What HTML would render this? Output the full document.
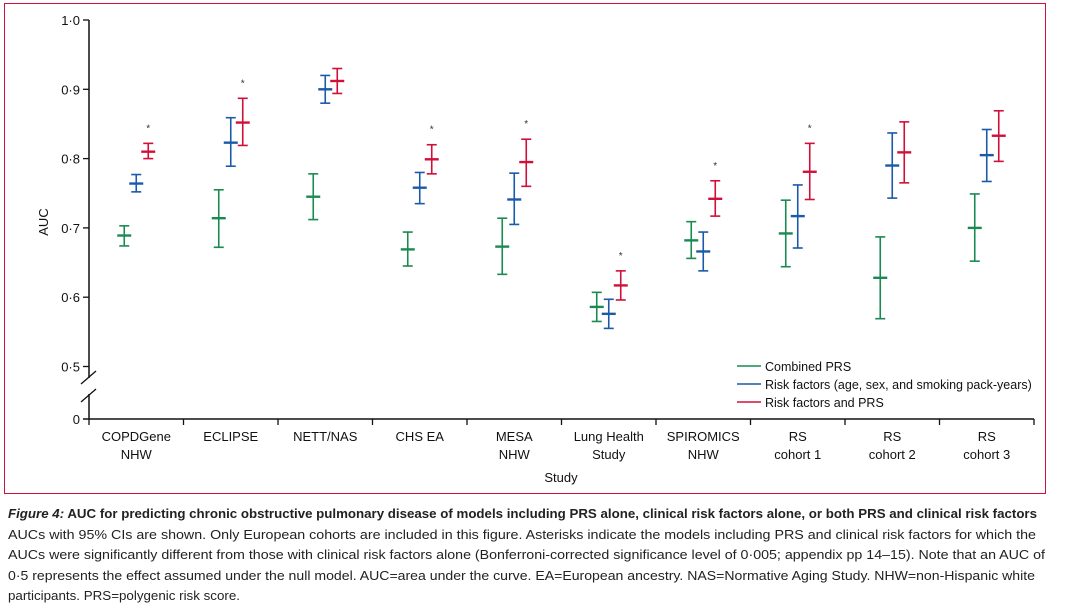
<!DOCTYPE html>
<html><head><meta charset="utf-8"><style>
body{margin:0;background:#fff;width:1067px;height:609px;overflow:hidden;font-family:"Liberation Sans",sans-serif}
#frame{position:absolute;left:4px;top:3px;width:1042px;height:491px;border:1.5px solid #d0103a;box-sizing:border-box}
#cap{position:absolute;left:8px;top:504px;font-size:13.3px;line-height:20.5px;color:#222;width:1100px}
#cap div{height:20.5px;white-space:nowrap}
#cap span.l{display:inline-block;white-space:nowrap;transform-origin:0 0}
</style></head><body>
<div id="frame"></div>
<svg id="chart" width="1067" height="500" style="position:absolute;left:0;top:0" font-family="Liberation Sans, sans-serif"></svg>
<div id="cap">
<div><span class="l" data-w="1029"><b><i>Figure 4:</i> AUC for predicting chronic obstructive pulmonary disease of models including PRS alone, clinical risk factors alone, or both PRS and clinical risk factors</b></span></div>
<div><span class="l" data-w="1028">AUCs with 95% CIs are shown. Only European cohorts are included in this figure. Asterisks indicate the models including PRS and clinical risk factors for which the</span></div>
<div><span class="l" data-w="1037">AUCs were significantly different from those with clinical risk factors alone (Bonferroni-corrected significance level of 0·005; appendix pp 14–15). Note that an AUC of</span></div>
<div><span class="l" data-w="1027">0·5 represents the effect assumed under the null model. AUC=area under the curve. EA=European ancestry. NAS=Normative Aging Study. NHW=non-Hispanic white</span></div>
<div><span class="l" data-w="232">participants. PRS=polygenic risk score.</span></div>
</div>
<script>
const categories=[["COPDGene","NHW"],["ECLIPSE"],["NETT/NAS"],["CHS EA"],["MESA","NHW"],["Lung Health","Study"],["SPIROMICS","NHW"],["RS","cohort 1"],["RS","cohort 2"],["RS","cohort 3"]];
const greenMid=[0.689,0.714,0.745,0.669,0.673,0.586,0.682,0.692,0.628,0.700];
const greenLo=[0.674,0.672,0.712,0.645,0.633,0.565,0.656,0.644,0.569,0.652];
const greenHi=[0.703,0.755,0.778,0.694,0.714,0.607,0.709,0.740,0.687,0.749];
const blueMid=[0.764,0.823,0.900,0.758,0.741,0.576,0.666,0.717,0.790,0.805];
const blueLo=[0.752,0.789,0.880,0.735,0.705,0.555,0.638,0.671,0.743,0.767];
const blueHi=[0.777,0.859,0.920,0.780,0.779,0.597,0.694,0.762,0.837,0.842];
const redMid=[0.810,0.852,0.912,0.799,0.795,0.617,0.742,0.781,0.809,0.833];
const redLo=[0.800,0.819,0.894,0.778,0.760,0.596,0.717,0.741,0.765,0.796];
const redHi=[0.822,0.887,0.930,0.820,0.828,0.638,0.768,0.822,0.853,0.869];
const significant=[1,1,0,1,1,1,1,1,0,0];
const yTicks=[0.5,0.6,0.7,0.8,0.9,1.0];
const yTickLabels=["0·5","0·6","0·7","0·8","0·9","1·0"];
const legendLabels=["Combined PRS","Risk factors (age, sex, and smoking pack-years)","Risk factors and PRS"];

document.querySelectorAll('#cap span.l').forEach(s=>{
 const w=s.getBoundingClientRect().width, tw=+s.getAttribute('data-w');
 if(w>0) s.style.transform='scaleX('+(tw/w)+')';
});

const svg=document.getElementById('chart');const NS='http://www.w3.org/2000/svg';
function el(t,a,p){const e=document.createElementNS(NS,t);for(const k in a)e.setAttribute(k,a[k]);(p||svg).appendChild(e);return e;}
const x0=89,step=94.5,yZero=419;
const y=v=>20+(1.0-v)*693;
const xc=i=>x0+step*(i+0.5);
let a=el('line',{x1:x0,y1:20,x2:x0,y2:yZero,stroke:'#111','stroke-width':1.5});

a=el('line',{x1:x0-6,y1:yZero,x2:x0+step*10,y2:yZero,stroke:'#111','stroke-width':1.5});

el('rect',{x:x0-8,y:378,width:16,height:16,fill:'#fff'});
el('line',{x1:x0-8,y1:384,x2:x0+7,y2:371,stroke:'#111','stroke-width':1.3});
el('line',{x1:x0-8,y1:402,x2:x0+7,y2:389,stroke:'#111','stroke-width':1.3});
yTicks.forEach((v,i)=>{
 const g=el('g',{});
 el('line',{x1:x0-6,y1:y(v),x2:x0,y2:y(v),stroke:'#111','stroke-width':1.3},g);
 el('text',{x:x0-9,y:y(v)+5,'text-anchor':'end','font-size':13,fill:'#111'},g).textContent=yTickLabels[i];
});
let t=el('text',{x:x0-9,y:yZero+5,'text-anchor':'end','font-size':13,fill:'#111'});t.textContent='0';
t=el('text',{x:48,y:222,'font-size':13,fill:'#111',transform:'rotate(-90 48 222)','text-anchor':'middle'});t.textContent='AUC';

t=el('text',{x:561,y:482,'font-size':13,fill:'#111','text-anchor':'middle'});t.textContent='Study';

for(let i=0;i<=10;i++)el('line',{x1:x0+step*i,y1:yZero,x2:x0+step*i,y2:yZero+6,stroke:'#111','stroke-width':1.3});
categories.forEach((c,i)=>{
 const tx=el('text',{x:xc(i),y:441,'text-anchor':'middle','font-size':13,fill:'#111'});
 
 c.forEach((s,j)=>{const ts=el('tspan',{x:xc(i),dy:j?18:0},tx);ts.textContent=s;});
});
const series=[[greenMid,greenLo,greenHi,'#1b8a52',-12,'combined-prs'],[blueMid,blueLo,blueHi,'#1a5aa8',0,'risk-factors'],[redMid,redLo,redHi,'#d0103a',12,'risk-factors-prs']];
series.forEach(([m,lo,hi,col,off,nm])=>{
 m.forEach((v,i)=>{
  const cx=xc(i)+off;
  const g=el('g',{stroke:col,'stroke-width':1.6});
  
  el('line',{x1:cx,y1:y(lo[i]),x2:cx,y2:y(hi[i])},g);
  el('line',{x1:cx-5,y1:y(lo[i]),x2:cx+5,y2:y(lo[i])},g);
  el('line',{x1:cx-5,y1:y(hi[i]),x2:cx+5,y2:y(hi[i])},g);
  el('line',{x1:cx-7,y1:y(v),x2:cx+7,y2:y(v),'stroke-width':2.4},g);
 });
});
significant.forEach((s,i)=>{if(!s)return;
 const st=el('text',{x:xc(i)+12,y:y(redHi[i])-12,'text-anchor':'middle','font-size':10,fill:'#333'});st.textContent='*';
 
});
['#1b8a52','#1a5aa8','#d0103a'].forEach((c,i)=>{
 const g=el('g',{});
 const ly=366+i*18;
 el('line',{x1:737,y1:ly,x2:761,y2:ly,stroke:c,'stroke-width':1.6},g);
 el('text',{x:765,y:ly+5,'font-size':12.5,fill:'#111'},g).textContent=legendLabels[i];
});
</script>
</body></html>
